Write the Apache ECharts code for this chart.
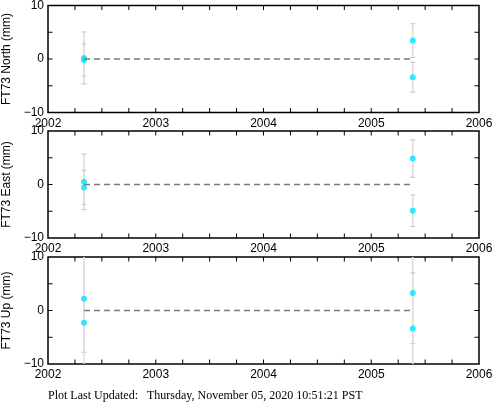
<!DOCTYPE html>
<html><head><meta charset="utf-8">
<script src="https://cdn.jsdelivr.net/npm/echarts@6/dist/echarts.min.js"></script>
<style>html,body{margin:0;padding:0;background:#fff}#c{width:493px;height:404px}</style>
</head><body><div id="c"></div>
<script>
// Data
const dates = [2002.334, 2002.334, 2005.385, 2005.385];
const north = [0.2, -0.2, 3.45, -3.4];
const northErr = [4.85, 3.0, 3.15, 2.8];
const east = [0.5, -0.55, 4.84, -4.9];
const eastErr = [5.2, 3.2, 3.5, 2.95];
const up = [2.2, -2.27, 3.25, -3.38];
const upErr = [10.0, 13.0, 9.45, 10.4];
const modelDates = [2002.334, 2005.385];
const northModel = [0, 0];
const eastModel = [0, 0];
const upModel = [0, 0];
const xTickValues = [2002.25, 2002.5, 2002.75, 2003, 2003.25, 2003.5, 2003.75, 2004,
  2004.25, 2004.5, 2004.75, 2005, 2005.25, 2005.5, 2005.75];
const yTickValues = [-5, 0, 5];
const panelNames = ['FT73 North (mm)', 'FT73 East (mm)', 'FT73 Up (mm)'];
const footer = 'Plot Last Updated:   Thursday, November 05, 2020 10:51:21 PST';

const panels = [
  {vals: north, errs: northErr, model: northModel},
  {vals: east, errs: eastErr, model: eastModel},
  {vals: up, errs: upErr, model: upModel}
];
const tops = [5.5, 131, 257];
const H = 107;
const sans = 'Liberation Sans, Arial, Helvetica, sans-serif';
const TL = 4.5; // tick length

const grid = [], xAxis = [], yAxis = [], series = [];
panels.forEach((p, i) => {
  grid.push({left: 48, right: 14, top: tops[i], height: H, show: true, outerBoundsMode: 'none',
    borderColor: '#000', borderWidth: 1.5});
  xAxis.push({type: 'value', gridIndex: i, min: 2002, max: 2006, interval: 1, position: 'bottom',
    axisLine: {show: false, onZero: false}, splitLine: {show: false}, axisTick: {show: false},
    axisLabel: {show: true, color: '#000', fontFamily: sans, fontSize: 12, margin: 5, formatter: v => String(v)}});
  yAxis.push({type: 'value', gridIndex: i, min: -10, max: 10, interval: 5, position: 'left',
    axisLine: {show: false, onZero: false}, splitLine: {show: false}, axisTick: {show: false},
    name: panelNames[i], nameLocation: 'middle', nameRotate: 90, nameGap: 34,
    nameTextStyle: {color: '#000', fontFamily: sans, fontSize: 12},
    axisLabel: {show: true, color: '#000', fontFamily: sans, fontSize: 12, margin: 4,
      formatter: v => (v % 10 !== 0 ? '' : (v < 0 ? '\u2212' + Math.abs(v) : String(v)))}});

  // inward frame ticks, positioned through the axes
  series.push({
    type: 'custom', xAxisIndex: i, yAxisIndex: i, silent: true,
    data: xTickValues.map(v => [v, 0, 0]).concat(yTickValues.map(v => [2004, v, 1])),
    renderItem: (params, api) => {
      const cs = params.coordSys;
      const pt = api.coord([api.value(0), api.value(1)]);
      const st = {stroke: '#000', lineWidth: 1};
      if (api.value(2) === 0) {
        return {type: 'group', children: [
          {type: 'line', shape: {x1: pt[0], y1: cs.y, x2: pt[0], y2: cs.y + TL}, style: st},
          {type: 'line', shape: {x1: pt[0], y1: cs.y + cs.height, x2: pt[0], y2: cs.y + cs.height - TL}, style: st}
        ]};
      }
      return {type: 'group', children: [
        {type: 'line', shape: {x1: cs.x, y1: pt[1], x2: cs.x + TL, y2: pt[1]}, style: st},
        {type: 'line', shape: {x1: cs.x + cs.width, y1: pt[1], x2: cs.x + cs.width - TL, y2: pt[1]}, style: st}
      ]};
    }
  });
  // error bars
  series.push({
    type: 'custom', xAxisIndex: i, yAxisIndex: i, silent: true,
    data: dates.map((d, k) => [d, p.vals[k], p.errs[k]]),
    renderItem: (params, api) => {
      const x = api.value(0), y = api.value(1), e = api.value(2);
      const cs = params.coordSys;
      const t = api.coord([x, y + e]), b = api.coord([x, y - e]);
      const yMin = cs.y, yMax = cs.y + cs.height;
      const ty = Math.max(yMin, t[1]), by = Math.min(yMax, b[1]);
      const children = [{type: 'line', shape: {x1: t[0], y1: ty, x2: t[0], y2: by},
        style: {stroke: '#dedede', lineWidth: 1.6}}];
      if (t[1] >= yMin) children.push({type: 'line', shape: {x1: t[0] - 2.5, y1: t[1], x2: t[0] + 2.5, y2: t[1]},
        style: {stroke: '#c4c4c4', lineWidth: 1}});
      if (b[1] <= yMax) children.push({type: 'line', shape: {x1: b[0] - 2.5, y1: b[1], x2: b[0] + 2.5, y2: b[1]},
        style: {stroke: '#c4c4c4', lineWidth: 1}});
      return {type: 'group', children};
    }
  });
  // dashed model line
  series.push({
    type: 'line', xAxisIndex: i, yAxisIndex: i, silent: true,
    data: modelDates.map((d, k) => [d, p.model[k]]), symbol: 'none',
    lineStyle: {color: '#7a7a7a', width: 1.5, type: [6, 4]}
  });
  // points
  series.push({
    type: 'scatter', xAxisIndex: i, yAxisIndex: i, silent: true,
    data: dates.map((d, k) => [d, p.vals[k]]), symbol: 'circle', symbolSize: 6,
    itemStyle: {color: '#00e5ff'}
  });
});

const chart = echarts.init(document.getElementById('c'), null, {renderer: 'canvas'});
chart.setOption({animation: false, grid, xAxis, yAxis, series,
  graphic: [{type: 'text', left: 48, top: 390,
    style: {text: footer, fill: '#000', font: '12px "Liberation Serif", "Times New Roman", serif'}}]
});
</script></body></html>
